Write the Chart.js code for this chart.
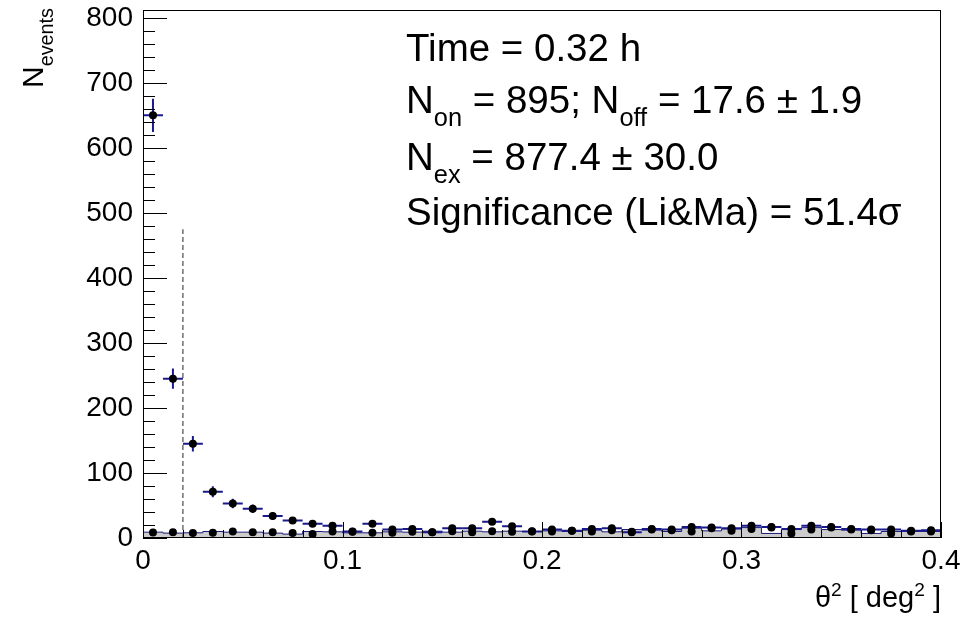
<!DOCTYPE html>
<html>
<head>
<meta charset="utf-8">
<script src="https://cdn.jsdelivr.net/npm/chart.js@4.4.1/dist/chart.umd.min.js"></script>
<style>
  html, body { margin: 0; padding: 0; background: #fff; }
  #wrap { position: relative; width: 965px; height: 622px; font-family: "Liberation Sans", Arial, sans-serif; color: #000; }
  #wrap canvas { position: absolute; left: 0; top: 0; }
  .lbl { position: absolute; white-space: nowrap; line-height: 1; }
  .stats { left: 406px; font-size: 38.5px; }
  .lbl sub { font-size: 0.66em; vertical-align: -0.5em; line-height: 0; }
  .lbl sup { font-size: 0.66em; vertical-align: 0.55em; line-height: 0; }
</style>
</head>
<body>
<div id="wrap">
  <canvas id="theta2" width="965" height="622"></canvas>
  <div class="lbl stats" style="top:29px">Time = 0.32 h</div>
  <div class="lbl stats" style="top:81px">N<sub>on</sub> = 895; N<sub>off</sub> = 17.6 &#177; 1.9</div>
  <div class="lbl stats" style="top:138px">N<sub>ex</sub> = 877.4 &#177; 30.0</div>
  <div class="lbl stats" style="top:193px">Significance (Li&amp;Ma) = 51.4&#963;</div>
  <div class="lbl" id="xTitle" style="right:24px; top:583px; font-size:29px;">&#952;<sup>2</sup> [ deg<sup>2</sup> ]</div>
  <div class="lbl" id="yTitle" style="left:18px; top:100px; font-size:30px; transform:rotate(-90deg); transform-origin:0 0;">N<sub>events</sub></div>
</div>
<script>
(function(){
  // bin centres in theta^2 [deg^2], bin width 0.01
  const thetaSq = [0.005, 0.015, 0.025, 0.035, 0.045, 0.055, 0.065, 0.075, 0.085, 0.095,
                   0.105, 0.115, 0.125, 0.135, 0.145, 0.155, 0.165, 0.175, 0.185, 0.195,
                   0.205, 0.215, 0.225, 0.235, 0.245, 0.255, 0.265, 0.275, 0.285, 0.295,
                   0.305, 0.315, 0.325, 0.335, 0.345, 0.355, 0.365, 0.375, 0.385, 0.395];
  const binHalfWidth = 0.005;

  const onCounts = [650, 245, 145, 71, 53, 45, 34, 27, 22, 19,
                    10, 22, 13, 14, 9, 15, 15, 25, 18, 10,
                    13, 11, 14, 15, 9, 14, 13, 17, 16, 15,
                    19, 17, 14, 19, 17, 14, 13, 13, 11, 12];

  const offCounts = [8.6, 9, 7.5, 8, 10, 9, 9, 7.5, 6, 10,
                     9.5, 8, 8, 9.5, 9, 10.5, 9, 10.5, 9.5, 10.5,
                     10, 11, 10, 12, 9.5, 13, 12, 10, 15, 11,
                     14, 16, 7, 13, 16, 13, 12, 7, 10, 10];

  const thetaCut = 0.02;
  const cutLineTop = 475;

  const xTicks = [0, 0.1, 0.2, 0.3, 0.4];
  const yTicks = [0, 100, 200, 300, 400, 500, 600, 700, 800];
  const xMin = 0, xMax = 0.4, yMin = 0, yMax = 812;

  const FONT = '"Liberation Sans", Arial, sans-serif';

  // off histogram as a step outline over the bin edges
  const offHist = thetaSq.map((c, i) => ({ x: c - binHalfWidth, y: offCounts[i] }));
  offHist.push({ x: thetaSq[thetaSq.length - 1] + binHalfWidth, y: offCounts[offCounts.length - 1] });

  const onPoints = thetaSq.map((c, i) => ({ x: c, y: onCounts[i] }));
  const offPoints = thetaSq.map((c, i) => ({ x: c, y: offCounts[i] }));

  const errorBars = {
    id: 'errorBars',
    beforeDatasetDraw(chart, args) {
      const ds = chart.data.datasets[args.index];
      if (!ds.errorBars) return;
      const { ctx, scales: { x, y } } = chart;
      ctx.save();
      ctx.strokeStyle = ds.errorColor;
      ctx.lineWidth = 2;
      ds.data.forEach(p => {
        const err = Math.sqrt(p.y);
        const px = x.getPixelForValue(p.x);
        const py = y.getPixelForValue(p.y);
        ctx.beginPath();
        ctx.moveTo(x.getPixelForValue(p.x - binHalfWidth), py);
        ctx.lineTo(x.getPixelForValue(p.x + binHalfWidth), py);
        ctx.moveTo(px, y.getPixelForValue(p.y + err));
        ctx.lineTo(px, y.getPixelForValue(Math.max(0, p.y - err)));
        ctx.stroke();
      });
      ctx.restore();
    }
  };

  // ROOT-like frame with inward ticks
  const frameTicks = {
    id: 'frameTicks',
    afterDraw(chart) {
      const { ctx, chartArea: a, scales: { x, y } } = chart;
      ctx.save();
      ctx.strokeStyle = '#000';
      ctx.lineWidth = 1;
      ctx.strokeRect(a.left + 0.5, a.top + 0.5, a.width - 1, a.height - 1);
      ctx.beginPath();
      for (let k = 0; k <= 40; k++) {
        const v = k * 20;
        if (v > yMax) break;
        const py = Math.round(y.getPixelForValue(v)) + 0.5;
        const len = (k % 5 === 0) ? 24 : 12;
        ctx.moveTo(a.left, py); ctx.lineTo(a.left + len, py);
      }
      for (let k = 0; k <= 20; k++) {
        const px = Math.round(x.getPixelForValue(k * 0.02)) + 0.5;
        const len = (k % 5 === 0) ? 16 : 8;
        ctx.moveTo(px, a.bottom); ctx.lineTo(px, a.bottom - len);
      }
      ctx.stroke();
      ctx.restore();
    }
  };

  const chart = new Chart(document.getElementById('theta2'), {
    type: 'scatter',
    data: {
      datasets: [
        {
          label: 'Off histogram', type: 'line', data: offHist, stepped: 'after',
          borderColor: '#1c1c7a', borderWidth: 1, backgroundColor: '#cccccc',
          fill: 'origin', pointRadius: 0, order: 4
        },
        {
          label: 'Cut', type: 'line',
          data: [{ x: thetaCut, y: 0 }, { x: thetaCut, y: cutLineTop }],
          borderColor: '#707070', borderWidth: 1.5, borderDash: [5, 3],
          pointRadius: 0, fill: false, order: 3
        },
        {
          label: 'Off', data: offPoints, pointRadius: 4, pointBackgroundColor: '#000',
          pointBorderWidth: 0, order: 2
        },
        {
          label: 'On', data: onPoints, pointRadius: 4, pointBackgroundColor: '#000',
          pointBorderWidth: 0, errorBars: true, errorColor: '#1a1a8c', order: 1
        }
      ]
    },
    options: {
      responsive: false,
      animation: false,
      events: [],
      layout: { padding: { left: 0, top: 10, right: 24, bottom: 0 } },
      plugins: { legend: { display: false }, tooltip: { enabled: false } },
      scales: {
        x: {
          type: 'linear', min: xMin, max: xMax,
          grid: { display: false, drawTicks: false }, border: { display: false },
          afterBuildTicks: s => { s.ticks = xTicks.map(v => ({ value: v })); },
          ticks: { font: { family: FONT, size: 28 }, color: '#000', padding: 6,
                   autoSkip: false, maxRotation: 0, callback: v => String(v) },
          afterFit: s => { s.height = 84; s.paddingLeft = 0; s.paddingRight = 0; }
        },
        y: {
          type: 'linear', min: yMin, max: yMax,
          grid: { display: false, drawTicks: false }, border: { display: false },
          afterBuildTicks: s => { s.ticks = yTicks.map(v => ({ value: v })); },
          ticks: { font: { family: FONT, size: 28 }, color: '#000', padding: 10,
                   autoSkip: false, callback: v => String(v) },
          afterFit: s => { s.width = 143; s.paddingTop = 0; s.paddingBottom = 0; }
        }
      }
    },
    plugins: [errorBars, frameTicks]
  });

  // right-align the rotated y title at the top of the frame
  const yTitle = document.getElementById('yTitle');
  yTitle.style.top = (8 + yTitle.offsetWidth) + 'px';
})();
</script>
</body>
</html>
